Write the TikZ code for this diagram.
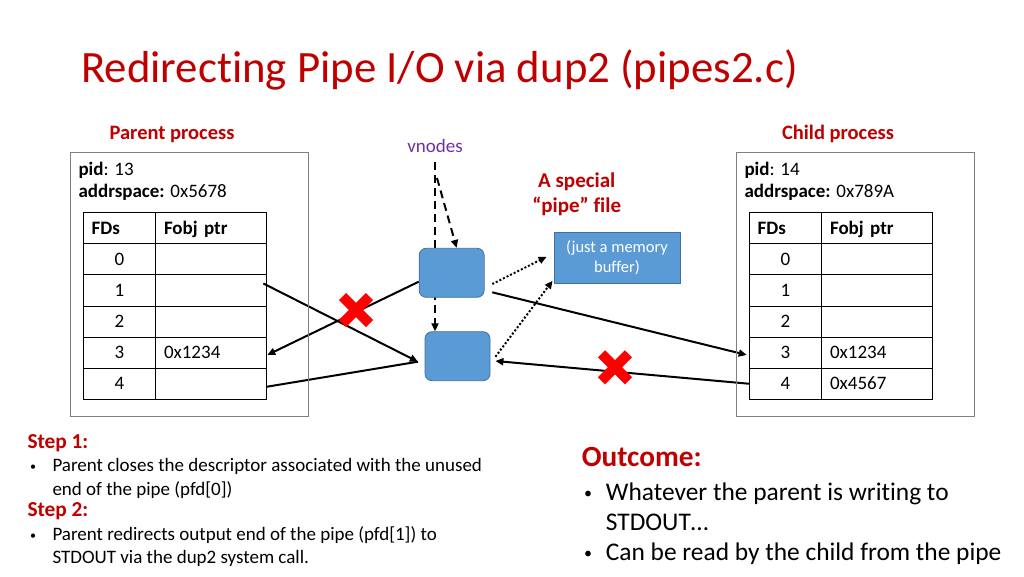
\documentclass[tikz,border=0pt]{standalone}
\usepackage{fontspec}
\setmainfont{Carlito}[Ligatures={TeX,NoCommon}]
\usetikzlibrary{arrows.meta,backgrounds}
\definecolor{titlered}{HTML}{C00000}
\definecolor{vpurple}{HTML}{7030A0}
\definecolor{boxblue}{HTML}{5B9BD5}
\definecolor{boxedge}{HTML}{41719C}
\definecolor{framegray}{HTML}{7F7F7F}
\definecolor{xred}{HTML}{FF0000}
\newcommand\fsBody{\fontsize{19}{23}\selectfont}
\newcommand\fsTitle{\fontsize{44.8}{50}\selectfont}
\newcommand\fsHead{\fontsize{20.5}{24}\selectfont\bfseries}
\newcommand\fsStep{\fontsize{21.3}{25}\selectfont\bfseries}
\newcommand\fsOut{\fontsize{25.4}{30}\selectfont}
\newcommand\fsOutHead{\fontsize{29.3}{34}\selectfont\bfseries}
\newcommand\fsMem{\fontsize{16.5}{20}\selectfont}
\newcommand\fsSpecial{\fontsize{21}{25}\selectfont\bfseries}
\newcommand\fsBulA{\fontsize{12}{12}\selectfont}
\newcommand\fsBulB{\fontsize{16}{16}\selectfont}
\begin{document}
\begin{tikzpicture}[x=1pt,y=-1pt,
  txt/.style={inner sep=0pt, anchor=base west},
  procbox/.style={draw=framegray, line width=1pt, minimum width=237.6pt, minimum height=263.3pt, inner sep=0pt},
  cella/.style={draw=black, line width=1pt, minimum width=72.4pt, minimum height=31.1pt, inner sep=0pt, outer sep=0pt, text height=12.3pt, text depth=0pt, font=\fsBody},
  cellb/.style={cella, minimum width=111pt, text width=94.4pt, align=left, inner xsep=8.3pt},
  cellh/.style={cella, text width=55.8pt, align=left, inner xsep=8.3pt, font={\fsBody\bfseries}},
  cellbh/.style={cellb, font={\fsBody\bfseries}},
  vbox/.style={draw=boxedge, fill=boxblue, rounded corners=7pt, line width=0.8pt, minimum width=65pt, minimum height=49pt, inner sep=0pt},
  membox/.style={draw=boxedge, fill=boxblue, line width=0.8pt, minimum width=126pt, minimum height=51pt, text=white, align=center, font=\fsMem, inner sep=0pt},
  arr/.style={-{Triangle[length=8pt,width=7pt]}, line width=2pt, black},
  dasharr/.style={arr, dash pattern=on 8pt off 5pt},
  dotarr/.style={arr, dash pattern=on 2pt off 2pt},
  xmark/.pic={\draw[xred, line width=10pt] (-13.5,-13.5) -- (13.5,13.5) (-13.5,13.5) -- (13.5,-13.5);}
]
\useasboundingbox (0,0) rectangle (1024,576);

% title
\node[txt, text=titlered, font=\fsTitle] (title) at (81,82) {Redirecting Pipe I/O via dup2 (pipes2.c)};

% process labels and boxes
\node[txt, anchor=base, text=titlered, font=\fsHead] (plabel) at (172,139) {Parent process};
\node[txt, anchor=base, text=titlered, font=\fsHead] (clabel) at (838,139) {Child process};
\node[procbox] (pbox) at (189.5,284.35) {};
\node[procbox] (cbox) at (855.5,284.35) {};

\node[txt, font=\fsBody] (ppid) at (78.3,175) {\textbf{pid}: 13};
\node[txt, font=\fsBody] (paddr) at (78.3,197.3) {\textbf{addrspace:} 0x5678};
\node[txt, font=\fsBody] (cpid) at (744.3,175) {\textbf{pid}: 14};
\node[txt, font=\fsBody] (caddr) at (744.3,197.3) {\textbf{addrspace:} 0x789A};

% parent table
\node[cellh] (pah) at (119.5,228.25) {FDs};
\node[cellbh] (pbh) at (211.2,228.25) {Fobj ptr};
\foreach \k in {0,...,4} {
  \node[cella] (pa\k) at (119.5,{259.35+31.1*\k}) {\k};
}
\node[cellb] (pb0) at (211.2,259.35) {};
\node[cellb] (pb1) at (211.2,290.45) {};
\node[cellb] (pb2) at (211.2,321.55) {};
\node[cellb] (pb3) at (211.2,352.65) {0x1234};
\node[cellb] (pb4) at (211.2,383.75) {};

% child table
\node[cellh] (cah) at (785.5,228.25) {FDs};
\node[cellbh] (cbh) at (877.2,228.25) {Fobj ptr};
\foreach \k in {0,...,4} {
  \node[cella] (ca\k) at (785.5,{259.35+31.1*\k}) {\k};
}
\node[cellb] (cb0) at (877.2,259.35) {};
\node[cellb] (cb1) at (877.2,290.45) {};
\node[cellb] (cb2) at (877.2,321.55) {};
\node[cellb] (cb3) at (877.2,352.65) {0x1234};
\node[cellb] (cb4) at (877.2,383.75) {0x4567};

% middle
\node[inner sep=0pt, anchor=base, text=vpurple, font=\fsBody] (vn) at (435,152) {vnodes};
\node[vbox] (ub) at (451.65,272.8) {};
\node[vbox] (lb) at (457.5,356.2) {};
\node[membox] (mem) at (617,257.8) {(just a memory\\buffer)};
\node[inner sep=0pt, anchor=base, text=titlered, font=\fsSpecial] (spec1) at (576.7,187) {A special};
\node[inner sep=0pt, anchor=base, text=titlered, font=\fsSpecial] (spec2) at (576.7,212) {“pipe” file};

\begin{scope}[on background layer]
\fill[white] (0,0) rectangle (1024,576);
\draw[dasharr] ([yshift=-9.7pt]vn.south) -- (vn.south |- lb.north);
\coordinate (vn2) at (437,178);
\draw[dasharr] (vn2) -- ([xshift=5pt]ub.north);
\draw[dotarr] ([xshift=7.7pt,yshift=-11.2pt]ub.east) -- ([xshift=-7pt,yshift=1pt]mem.west);
\draw[dotarr] ([xshift=5pt,yshift=-0.5pt]lb.east) -- ([xshift=-1pt,yshift=3pt]mem.south west);
\draw[arr] ([xshift=-3.4pt,yshift=7pt]pb1.east) -- ([xshift=-6.7pt,yshift=-5.5pt]lb.west);
\draw[line width=2pt] ([yshift=-3pt]pb4.east) -- ([xshift=-6.7pt,yshift=-5.5pt]lb.west);
\draw[arr] ([yshift=-8.9pt]ub.west) -- ([xshift=0.6pt,yshift=-2.3pt]pb3.east);
\draw[arr] ([xshift=7.7pt,yshift=-19.5pt]ub.east) -- ([xshift=-2.6pt,yshift=-2.3pt]ca3.west);
\draw[arr] (ca4.west) -- ([xshift=5pt,yshift=-4.8pt]lb.east);
\end{scope}

\pic at (356,310) {xmark};
\pic at (615,367.3) {xmark};

% bottom left
\node[txt, text=titlered, font=\fsStep] (s1) at (27.3,448.3) {Step 1:};
\node[txt, font=\fsBulA] (b1) at (30,470.5) {•};
\node[txt, font=\fsBody] (l1) at (52.3,471.7) {Parent closes the descriptor associated with the unused};
\node[txt, font=\fsBody] (l2) at (52.3,495) {end of the pipe (pfd[0])};
\node[txt, text=titlered, font=\fsStep] (s2) at (27.3,516.7) {Step 2:};
\node[txt, font=\fsBulA] (b2) at (30,539.5) {•};
\node[txt, font=\fsBody] (l3) at (52.3,540.7) {Parent redirects output end of the pipe (pfd[1]) to};
\node[txt, font=\fsBody] (l4) at (52.3,563.3) {STDOUT via the dup2 system call.};

% outcome
\node[txt, text=titlered, font=\fsOutHead] (oh) at (581.7,466) {Outcome:};
\node[txt, font=\fsBulB] (ob1) at (584,498) {•};
\node[txt, font=\fsOut] (o1) at (605.7,500) {Whatever the parent is writing to};
\node[txt, font=\fsOut] (o2) at (605.7,530) {STDOUT…};
\node[txt, font=\fsBulB] (ob2) at (584,558) {•};
\node[txt, font=\fsOut] (o3) at (605.7,560) {Can be read by the child from the pipe};
\end{tikzpicture}
\end{document}
